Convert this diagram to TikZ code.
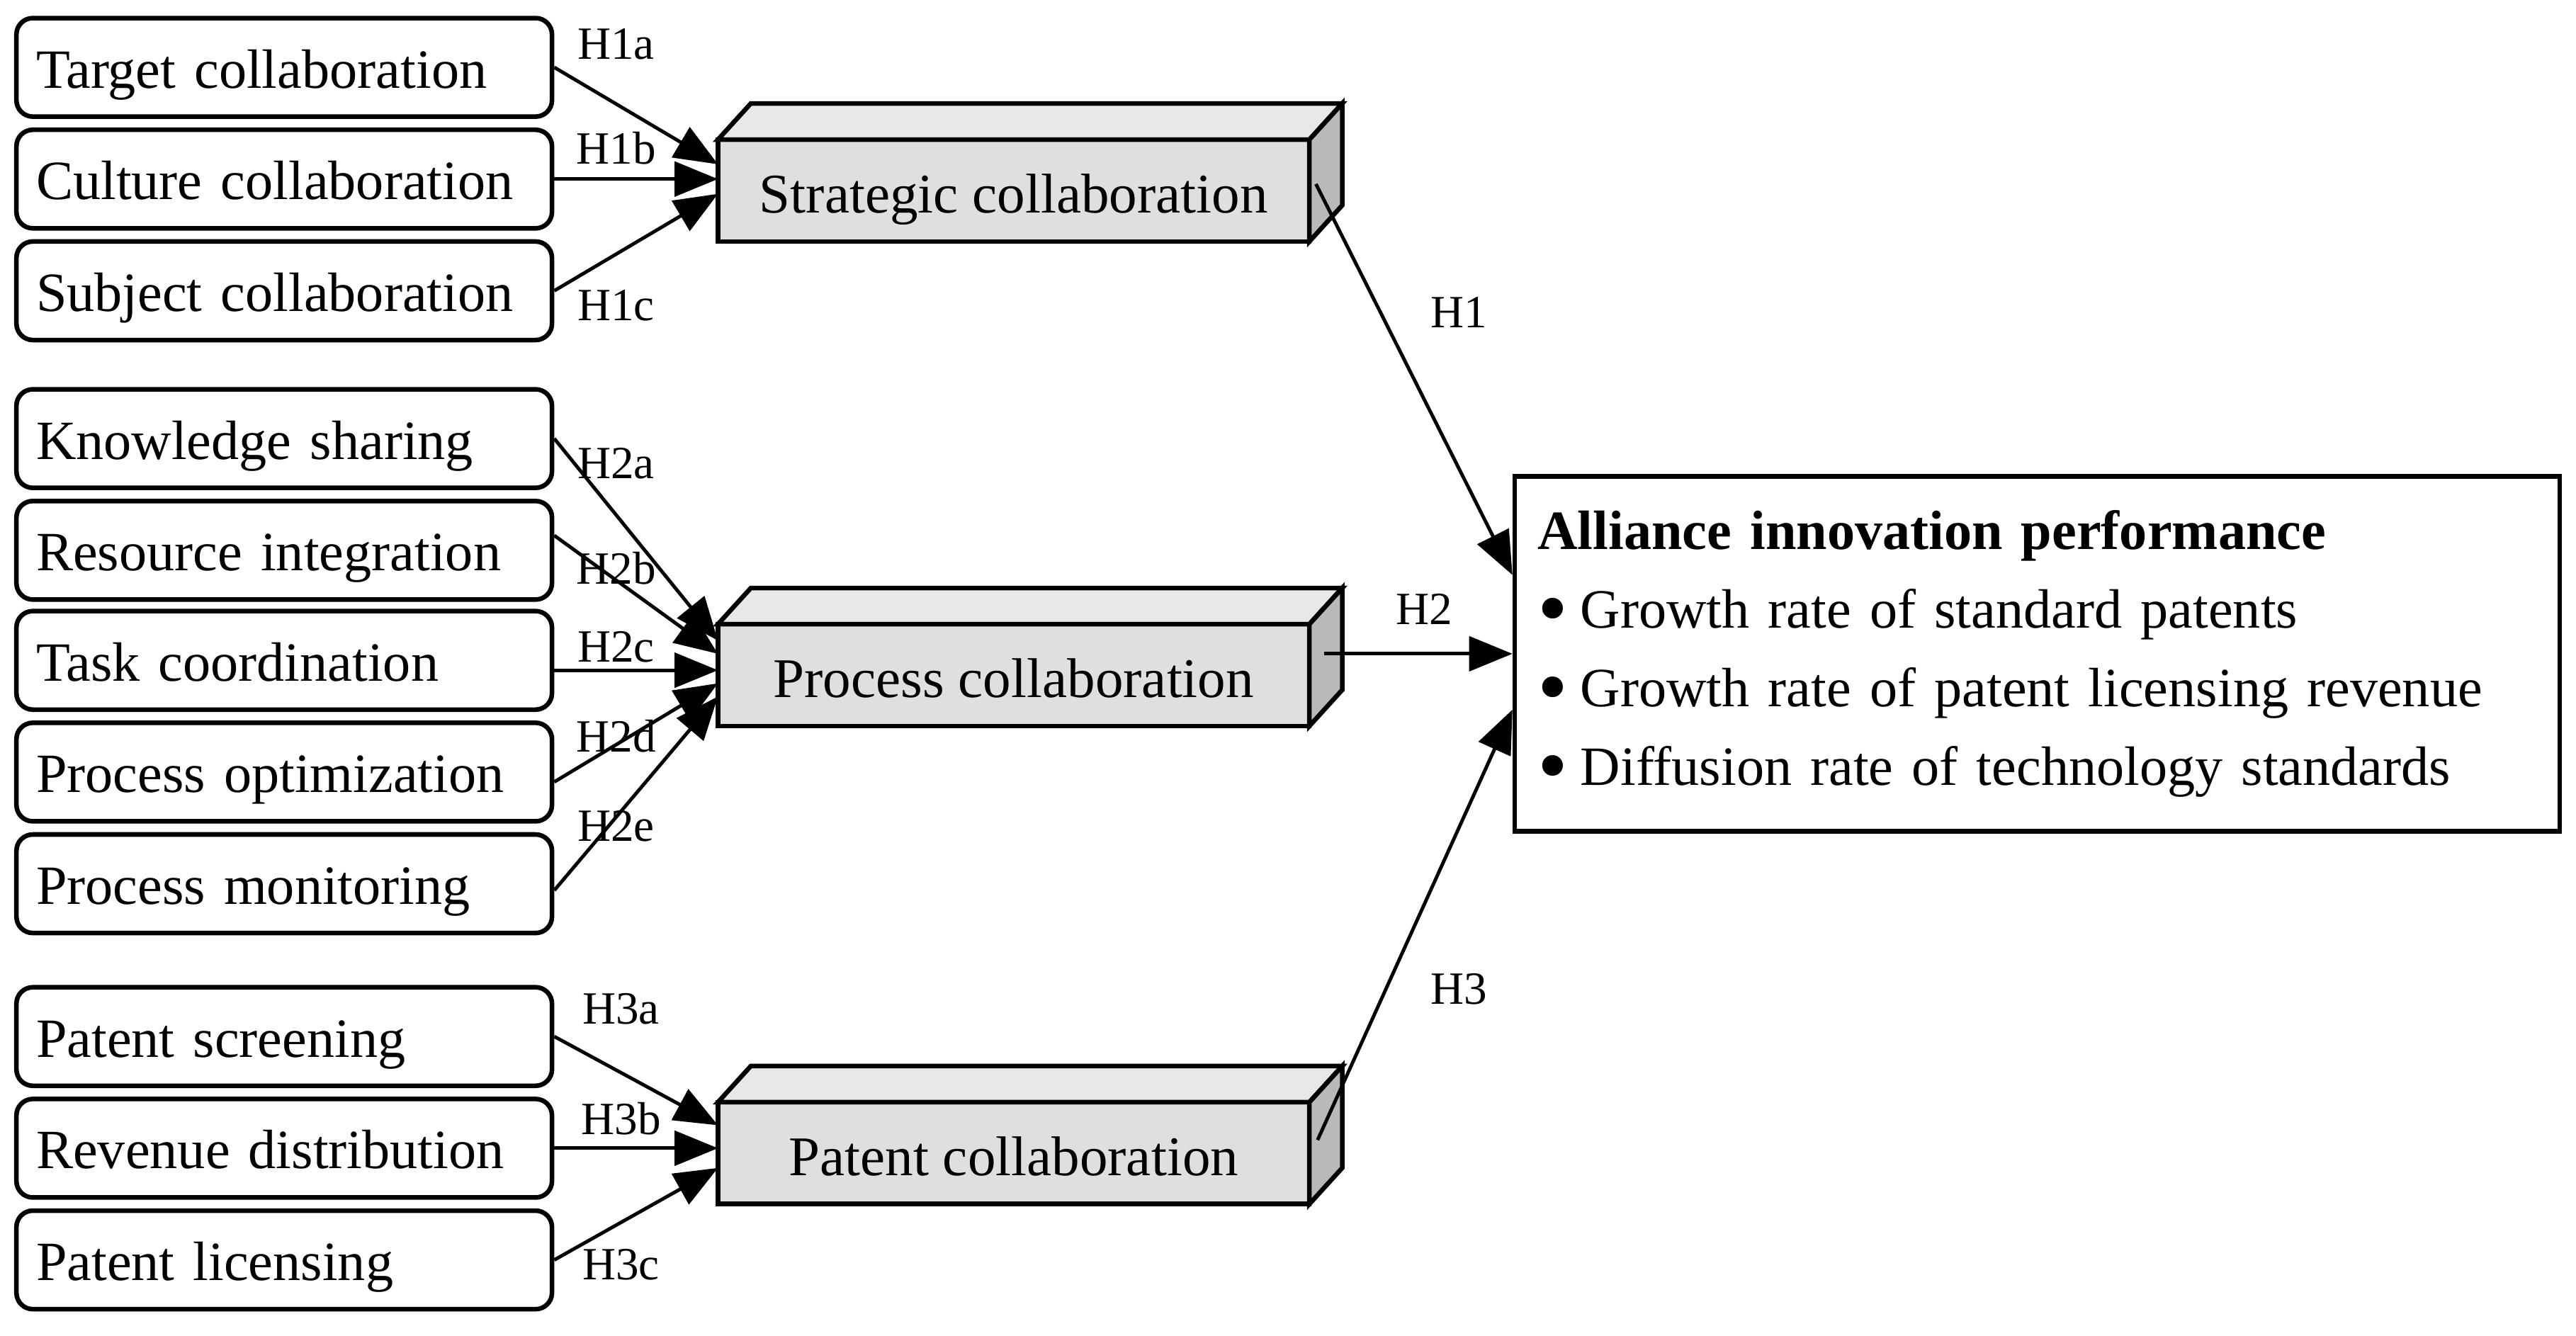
\documentclass[tikz,border=0pt]{standalone}
\usepackage{fontspec}
\setmainfont{Liberation Serif}
\usetikzlibrary{arrows.meta}

\newcommand{\perfdot}{\makebox[2.6mm][l]{\smash{\raisebox{-1.6pt}{\fontsize{15}{15}\selectfont\textbullet}}}}

\tikzset{
  factor/.style={draw, line width=0.8pt, rounded corners=1mm, fill=white,
    minimum height=6mm, text width=30.2mm, inner xsep=1.2mm, inner ysep=0.5mm,
    text height=3.2mm, text depth=0.7mm,
    align=left, font=\fontsize{9.6}{11}\selectfont},
  cubefront/.style={draw, line width=0.8pt, fill=gray!25, minimum width=36mm,
    minimum height=6.2mm, inner sep=0pt, outer sep=0pt,
    text height=3.3mm, text depth=0.6mm, font=\fontsize{9.7}{11}\selectfont},
  cubetop/.style={draw, line width=0.8pt, fill=gray!18},
  cubeside/.style={draw, line width=0.8pt, fill=gray!55},
  perfbox/.style={draw, line width=0.8pt, minimum width=63.6mm, minimum height=21.6mm,
    text width=60.8mm, inner xsep=1.4mm, align=left, font=\fontsize{9.6}{13.6}\selectfont},
  hyp/.style={-{Triangle[length=7.5pt,width=6pt]}, line width=0.6pt},
  hlabel/.style={font=\fontsize{8}{9}\selectfont, inner sep=0pt}
}

\begin{document}
\begin{tikzpicture}[x=0.1mm, y=-0.1mm]
        \useasboundingbox (0,0) rectangle (1568,813);

        % strategic level
        \node[factor] (target) at (173,41) {Target collaboration};
        \node[factor] (culture) at (173,109) {Culture collaboration};
        \node[factor] (subject) at (173,177) {Subject collaboration};

        % process level
        \node[factor] (knowledge) at (173,267) {Knowledge sharing};
        \node[factor] (resource) at (173,335) {Resource integration};
        \node[factor] (task) at (173,402) {Task coordination};
        \node[factor] (optim) at (173,470) {Process optimization};
        \node[factor] (monitor) at (173,538) {Process monitoring};

        % patent level
        \node[factor] (screening) at (173,631) {Patent screening};
        \node[factor] (revenue) at (173,699) {Revenue distribution};
        \node[factor] (licensing) at (173,767) {Patent licensing};

        % the three blocks
        \node[cubefront] (strat) at (617,116) {Strategic collaboration};
        \node[cubefront] (proc) at (617,411) {Process collaboration};
        \node[cubefront] (pat) at (617,702) {Patent collaboration};
        \foreach \c in {strat,proc,pat}{
            \draw[cubetop] (\c.north west) -- ++(20,-22) -- ++(360,0) -- ++(-20,22) -- cycle;
            \draw[cubeside] (\c.north east) -- ++(20,-22) -- ++(0,62) -- ++(-20,22) -- cycle;
        }

        \node[perfbox] (perf) at (1240,398) {\textbf{Alliance innovation performance}\\
            \perfdot Growth rate of standard patents\\
            \perfdot Growth rate of patent licensing revenue\\
            \perfdot Diffusion rate of technology standards};

        \draw[hyp] (target.east) -- ([yshift=1.6mm]strat.west);
        \draw[hyp] (culture.east) -- (culture.east -| strat.west);
        \draw[hyp] (subject.east) -- ([yshift=-0.2mm]strat.west);

        \draw[hyp] (knowledge.east) -- ([yshift=2.1mm]proc.west);
        \draw[hyp] ([yshift=0.9mm]resource.east) -- ([yshift=1.3mm]proc.west);
        \draw[hyp] ([yshift=-0.6mm]task.east) -- ([yshift=-0.6mm]task.east -| proc.west);
        \draw[hyp] ([yshift=-0.6mm]optim.east) -- ([yshift=-0.5mm]proc.west);
        \draw[hyp] ([yshift=-0.4mm]monitor.east) -- ([yshift=-1.3mm]proc.west);

        \draw[hyp] (screening.east) -- ([yshift=1.7mm]pat.west);
        \draw[hyp] (revenue.east) -- (revenue.east -| pat.west);
        \draw[hyp] (licensing.east) -- ([yshift=-0.9mm]pat.west);

        \draw[hyp] ([xshift=0.4mm,yshift=0.4mm]strat.east) -- ([yshift=4.8mm]perf.west);
        \draw[hyp] ([xshift=0.9mm]proc.east |- perf.west) -- (perf.west);
        \draw[hyp] ([xshift=0.5mm,yshift=0.8mm]pat.east) -- ([yshift=-3.4mm]perf.west);

        \node[hlabel] (h1a) at (375,27) {H1a};
        \node[hlabel] (h1b) at (375,90) {H1b};
        \node[hlabel] (h1c) at (375,186) {H1c};
        \node[hlabel] (h2a) at (375,282) {H2a};
        \node[hlabel] (h2b) at (375,346) {H2b};
        \node[hlabel] (h2c) at (375,394) {H2c};
        \node[hlabel] (h2d) at (375,448) {H2d};
        \node[hlabel] (h2e) at (375,503) {H2e};
        \node[hlabel] (h3a) at (378,614) {H3a};
        \node[hlabel] (h3b) at (378,681) {H3b};
        \node[hlabel] (h3c) at (378,770) {H3c};
        \node[hlabel] (h1) at (888,190) {H1};
        \node[hlabel] (h2) at (867,371) {H2};
        \node[hlabel] (h3) at (888,602) {H3};
\end{tikzpicture}
\end{document}
